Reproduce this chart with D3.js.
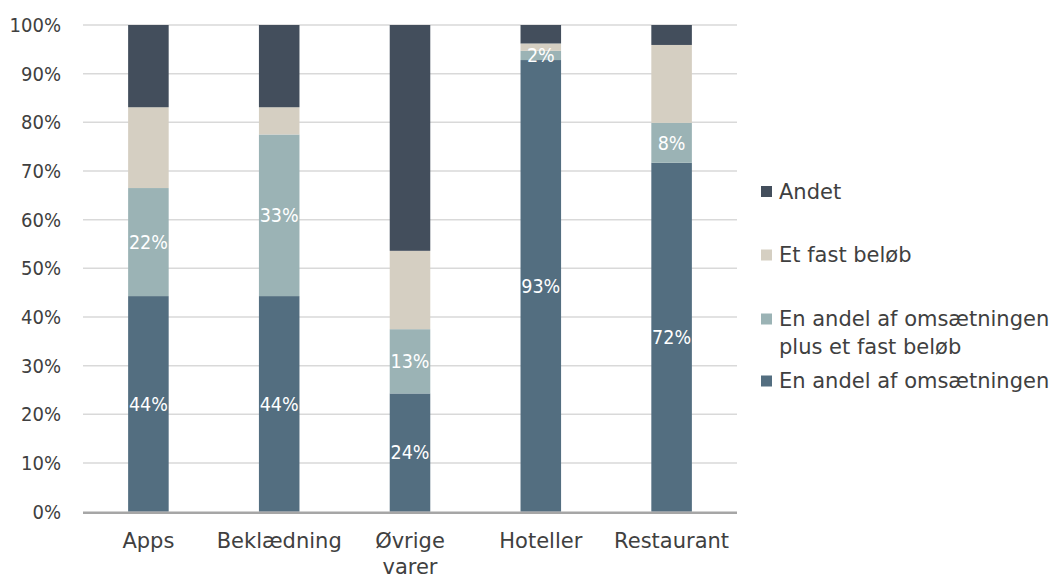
<!DOCTYPE html>
<html><head><meta charset="utf-8">
<script src="https://cdn.jsdelivr.net/npm/d3@7/dist/d3.min.js"></script>
<style>
body{margin:0;background:#fff;}
</style></head>
<body><svg id="chart" width="1054" height="578"></svg>
<script>
const categories = ["Apps", "Beklædning", "Øvrige varer", "Hoteller", "Restaurant"];
const categoryLines = [["Apps"], ["Beklædning"], ["Øvrige", "varer"], ["Hoteller"], ["Restaurant"]];
const seriesNames = ["En andel af omsætningen", "En andel af omsætningen plus et fast beløb", "Et fast beløb", "Andet"];
const andel = [44.3, 44.3, 24.3, 92.8, 71.7];
const andelPlus = [22.2, 33.2, 13.2, 1.9, 8.2];
const fastBelob = [16.6, 5.6, 16.1, 1.5, 16.0];
const andet = [16.9, 16.9, 46.4, 3.8, 4.1];
const andelLabels = ["44%", "44%", "24%", "93%", "72%"];
const andelPlusLabels = ["22%", "33%", "13%", "2%", "8%"];
const yTicks = [0, 10, 20, 30, 40, 50, 60, 70, 80, 90, 100];
const colors = ["#536e80", "#9bb3b5", "#d5cfc2", "#434e5c"];

const svg = d3.select("#chart");
const pLeft = 83, pRight = 737, pTop = 25, pBottom = 511.7;
const x = d3.scaleBand().domain(categories).range([pLeft, pRight]).paddingInner(0.69).paddingOuter(0.345);
const y = d3.scaleLinear().domain([0, 100]).range([pBottom, pTop]);
const wideFont = "'DejaVu Sans',sans-serif";
const condFont = "'DejaVu Sans Condensed','DejaVu Sans',sans-serif";

// gridlines
svg.append("g").selectAll("line").data(yTicks.filter(d => d > 0)).join("line")
  .attr("x1", pLeft).attr("x2", pRight)
  .attr("y1", d => y(d)).attr("y2", d => y(d))
  .attr("stroke", "#d9d9d9").attr("stroke-width", 1.5);

// y axis labels
const yAxis = d3.axisLeft(y).tickValues(yTicks).tickFormat(d => d + "%").tickSize(0).tickPadding(0);
const gy = svg.append("g").attr("transform", `translate(61,0)`).call(yAxis);
gy.select(".domain").remove();
gy.attr("font-family", null).attr("font-size", null);
gy.selectAll("text").style("font-size", "20px").style("fill", "#404040")
  .style("font-family", condFont);

// stacks
const rows = categories.map((c, i) => ({cat: c, s0: andel[i], s1: andelPlus[i], s2: fastBelob[i], s3: andet[i]}));
const stack = d3.stack().keys(["s0", "s1", "s2", "s3"])(rows);
stack.forEach((layer, li) => {
  svg.append("g").selectAll("rect").data(layer).join("rect")
    .attr("x", d => x(d.data.cat)).attr("width", x.bandwidth())
    .attr("y", d => y(d[1])).attr("height", d => y(d[0]) - y(d[1]))
    .attr("fill", colors[li]);
});

// data labels
const labelSets = [andelLabels, andelPlusLabels];
labelSets.forEach((labels, li) => {
  svg.append("g").selectAll("text").data(stack[li]).join("text")
    .attr("x", d => x(d.data.cat) + x.bandwidth() / 2)
    .attr("y", d => y((d[0] + d[1]) / 2))
    .attr("dy", "0.35em")
    .attr("text-anchor", "middle")
    .style("font-family", condFont)
    .style("font-size", "19.5px").style("fill", "#ffffff")
    .text((d, i) => labels[i]);
});

// x axis line
svg.append("line").attr("x1", pLeft).attr("x2", pRight).attr("y1", pBottom + 1).attr("y2", pBottom + 1)
  .attr("stroke", "#a6a6a6").attr("stroke-width", 2.5);

// x labels
const xl = svg.append("g").selectAll("text").data(categories).join("text")
  .attr("x", d => x(d) + x.bandwidth() / 2)
  .attr("y", 541).attr("text-anchor", "middle")
  .style("font-size", "21px").style("fill", "#404040").style("font-family", wideFont);
xl.each(function(d, i) {
  const t = d3.select(this);
  categoryLines[i].forEach((ln, k) => {
    t.append("tspan").attr("x", x(d) + x.bandwidth() / 2).attr("dy", k === 0 ? "0.35em" : 26).text(ln);
  });
});

// legend
const legendItems = [
  {lines: ["Andet"], color: colors[3], y: 191.5},
  {lines: ["Et fast beløb"], color: colors[2], y: 255},
  {lines: ["En andel af omsætningen", "plus et fast beløb"], color: colors[1], y: 319},
  {lines: ["En andel af omsætningen"], color: colors[0], y: 381}
];
const lg = svg.append("g");
legendItems.forEach(it => {
  lg.append("rect").attr("x", 761).attr("y", it.y - 5.5).attr("width", 11).attr("height", 11).attr("fill", it.color);
  const t = lg.append("text").attr("x", 779).attr("y", it.y)
    .style("font-size", "21px").style("fill", "#404040").style("font-family", wideFont);
  it.lines.forEach((ln, k) => t.append("tspan").attr("x", 779).attr("dy", k === 0 ? "0.35em" : 28).text(ln));
});
</script></body></html>
